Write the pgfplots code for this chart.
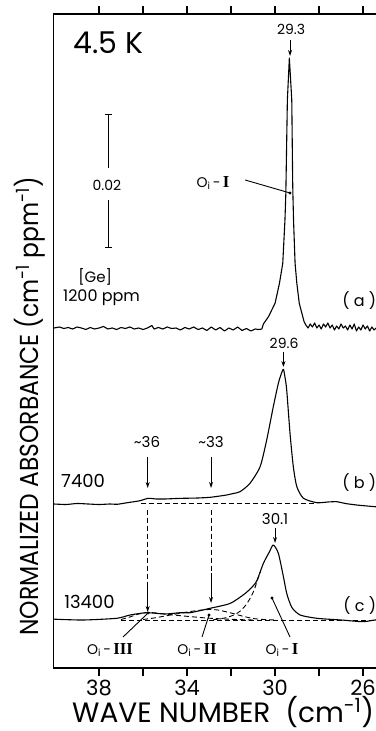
\documentclass[border=0pt]{standalone}
\usepackage{fontspec}
\setmainfont{Poppins}
\newfontfamily\romfont{Liberation Serif}
\usepackage{pgfplots}
\pgfplotsset{compat=1.18}
\usetikzlibrary{arrows.meta}
\newcommand{\fs}[1]{\fontsize{#1}{#1}\selectfont}
\newcommand{\Oi}[1]{O\textsubscript{i}\,-\,{\romfont\bfseries\scalebox{1.2}{#1}}}
\begin{document}
\begin{tikzpicture}
\begin{axis}[
  scale only axis, width=331.76pt, height=654pt,
  x dir=reverse, xmin=25, xmax=40.08, ymin=0, ymax=654,
  xtick={26,30,34,38}, minor xtick={28,32,36},
  ytick=\empty,
  tick align=outside, major tick length=8pt, minor tick length=8pt,
  xtick pos=both, xticklabel pos=lower,
  axis line style={line width=1.3pt},
  every tick/.style={black, line width=1.2pt},
  tick label style={font=\fs{21}},
  /pgf/number format/assume math mode=true,
  clip=false,
  xlabel={WAVE NUMBER\ \ (cm\textsuperscript{-1})},
  xlabel style={font=\fs{28}, at={(rel axis cs:0.0564,-0.0826)}, anchor=base west, inner sep=0pt},
  ylabel={\scalebox{0.9}[1]{NORMALIZED ABSORBANCE (cm\textsuperscript{-1} ppm\textsuperscript{-1})}},
  ylabel style={font=\fs{26}, at={(rel axis cs:-0.0702,0.40)}, anchor=center, rotate=0, inner sep=0pt},
]
\coordinate (BL) at (rel axis cs:0,0);
% (a) 1200 ppm
\addplot[black, line width=1.1pt, line join=round] coordinates {
(40.05,340) (39.8,341) (39.6,339.5) (39.4,340.5) (39.2,339) (39.0,341) (38.8,340) (38.6,338.5)
(38.4,340.5) (38.2,339) (38.0,340) (37.8,341.5) (37.6,339) (37.4,340) (37.2,338.5) (37.0,340.5)
(36.8,339.5) (36.6,341) (36.4,339) (36.2,340) (36.0,338.5) (35.8,340) (35.6,342.5) (35.5,339)
(35.3,340.5) (35.1,339) (34.9,341) (34.7,339.5) (34.5,340) (34.3,338) (34.1,340.5) (33.9,339)
(33.7,341) (33.5,338.5) (33.3,340) (33.1,337.5) (32.9,341) (32.7,338) (32.5,340.5) (32.3,337)
(32.1,340) (31.9,338) (31.7,341) (31.5,337.5) (31.3,339.5) (31.1,337) (30.9,339) (30.75,338.5)
(30.6,339) (30.53,344) (30.30,351.3) (30.0,364.7) (29.80,384.7) (29.65,404.7) (29.55,448)
(29.51,474.7) (29.50,488) (29.44,568) (29.35,610) (29.24,568) (29.20,488) (29.19,475)
(29.16,448) (29.09,404.7) (29.01,384.7) (28.90,364.7) (28.74,351.3) (28.68,346.3)
(28.6,343) (28.5,340) (28.4,344) (28.3,341) (28.2,345) (28.1,340) (28.0,343) (27.9,339)
(27.8,344) (27.7,341) (27.6,345) (27.5,340) (27.4,343) (27.3,338) (27.2,342) (27.1,339)
(27.0,344) (26.9,340) (26.8,342) (26.7,338) (26.6,343) (26.5,339) (26.4,344) (26.3,337)
(26.2,341) (26.1,338) (26.0,343) (25.9,339) (25.8,342) (25.7,337) (25.6,341) (25.5,338)
(25.4,340) (25.2,339) (25.0,341)
};
% (b) 7400 ppm
\addplot[black, line width=1.1pt, line join=round, smooth, tension=0.4] coordinates {
(40.05,164) (39.5,163.5) (39.0,164.5) (38.5,164) (38.0,163.5) (37.5,164) (37.18,163.7)
(36.8,165) (36.5,166) (36.14,167.3) (35.76,169.7) (35.4,169) (35.0,169) (34.5,169.5)
(34.18,169.7) (33.5,170) (32.95,170.7) (32.5,172) (32.2,173) (31.9,174.5) (31.59,176.3)
(31.14,184.7) (30.68,201.3) (30.38,228) (30.08,261.3) (29.85,284.7) (29.72,294) (29.62,298.7)
(29.55,291) (29.47,278) (29.32,234.7) (29.17,201.3) (29.01,181.3) (28.71,169.7) (28.10,165.3)
(27.6,166) (27.2,166.3) (26.8,164.5) (26.29,163) (25.45,161.3) (25.0,161)
};
\addplot[black, line width=0.9pt, dash pattern=on 5pt off 3pt] coordinates {(36.1,164.7) (28.1,164.7)};
% (c) 13400 ppm
\addplot[black, line width=1.1pt, line join=round, smooth, tension=0.4] coordinates {
(40.05,49) (39.92,48.7) (38.71,48) (37.2,49.7) (36.59,53) (35.83,55.3) (35.0,54) (34.32,55.3)
(33.86,55.3) (32.95,59.7) (32.05,64.5) (31.45,73) (31.18,78) (30.85,86.3) (30.53,104.7)
(30.26,116) (30.08,123) (29.85,114.7) (29.62,91.3) (29.47,74.7) (29.24,60.7) (28.86,53)
(28.10,49.7) (27.0,48) (26.0,46.3) (25.45,48) (25.0,47)
};
\addplot[black, line width=0.9pt, dash pattern=on 5pt off 3pt] coordinates {(37.0,48) (25.0,48)};
% components
\addplot[black, line width=0.9pt, dash pattern=on 5pt off 3pt, smooth] coordinates {
(37.0,48.5) (36.6,51) (36.2,54) (35.8,55.5) (35.4,55) (35.0,54) (34.4,52.5) (33.8,51.3)
(33.0,49.8) (32.0,48.7) (31.0,48)
};
\addplot[black, line width=0.9pt, dash pattern=on 5pt off 3pt, smooth] coordinates {
(36.0,48.5) (35.5,50) (35.0,52) (34.5,54) (34.0,56) (33.5,57.5) (33.0,58.5) (32.6,58)
(32.0,55) (31.5,52) (31.0,49.5) (30.5,48.5) (30.0,48)
};
\addplot[black, line width=0.9pt, dash pattern=on 5pt off 3pt, smooth] coordinates {
(32.8,48.3) (32.4,49.5) (32.05,51.5) (31.7,55) (31.4,61) (31.15,69) (30.95,78) (30.8,88) (30.65,97)
};
% vertical guides
\addplot[black, line width=0.9pt, dash pattern=on 5pt off 3pt] coordinates {(35.79,158) (35.79,85)};
\addplot[black, line width=0.9pt, dash pattern=on 5pt off 3pt] coordinates {(32.91,158) (32.91,95)};
\draw[line width=0.9pt, -{Stealth[length=6pt,width=4pt]}] (axis cs:35.79,85) -- (axis cs:35.79,56);
\draw[line width=0.9pt, -{Stealth[length=6pt,width=4pt]}] (axis cs:32.91,95) -- (axis cs:32.91,65);
% arrows for peaks
\draw[line width=0.9pt, -{Stealth[length=6pt,width=4pt]}] (axis cs:29.32,628) -- (axis cs:29.32,612);
\draw[line width=0.9pt, -{Stealth[length=6pt,width=4pt]}] (axis cs:29.62,316) -- (axis cs:29.62,301);
\draw[line width=0.9pt, -{Stealth[length=6pt,width=4pt]}] (axis cs:35.79,211) -- (axis cs:35.79,180);
\draw[line width=0.9pt, -{Stealth[length=6pt,width=4pt]}] (axis cs:32.91,211) -- (axis cs:32.91,180);
\draw[line width=0.9pt, -{Stealth[length=6pt,width=4pt]}] (axis cs:30.0,140) -- (axis cs:30.0,125);
% scale bar
\draw[line width=1pt] (axis cs:37.58,553) -- (axis cs:37.58,500);
\draw[line width=1pt] (axis cs:37.58,468) -- (axis cs:37.58,420);
\draw[line width=1pt] (axis cs:37.74,553) -- (axis cs:37.42,553);
\draw[line width=1pt] (axis cs:37.74,420) -- (axis cs:37.42,420);
\node[font=\fs{14}] at (axis cs:37.64,483) {0.02};
% pointer lines and dots
\draw[line width=0.9pt] (axis cs:31.36,488) -- (axis cs:29.32,475);
\fill (axis cs:29.32,475) circle (1.6pt);
\draw[line width=0.9pt] (axis cs:36.91,31) -- (axis cs:35.77,55);
\fill (axis cs:35.77,55) circle (1.6pt);
\draw[line width=0.9pt] (axis cs:33.32,31) -- (axis cs:33.0,53);
\fill (axis cs:33.0,53) circle (1.6pt);
\draw[line width=0.9pt] (axis cs:29.32,31) -- (axis cs:30.14,70);
\fill (axis cs:30.14,70) circle (1.6pt);
% texts
\node[font=\fs{30}] at (axis cs:37.57,625.5) {4.5 K};
\node[font=\fs{14}] at (axis cs:29.27,639) {29.3};
\node[font=\fs{14}] at (axis cs:32.82,485) {\Oi{I}};
\node[font=\fs{15}] at (axis cs:38.18,391) {[Ge]};
\node[font=\fs{16}, anchor=west, inner sep=0pt] at (axis cs:39.64,370) {1200 ppm};
\node[font=\fs{16}, anchor=west, inner sep=0pt] at (axis cs:26.95,367) {( a )};
\node[font=\fs{14}] at (axis cs:29.59,325) {29.6};
\node[font=\fs{15}] at (axis cs:35.82,226) {\textasciitilde36};
\node[font=\fs{15}] at (axis cs:32.91,226) {\textasciitilde33};
\node[font=\fs{18}, anchor=west, inner sep=0pt] at (axis cs:39.73,187) {7400};
\node[font=\fs{16}, anchor=west, inner sep=0pt] at (axis cs:26.95,185) {( b )};
\node[font=\fs{15}] at (axis cs:30.0,149) {30.1};
\node[font=\fs{18}, anchor=west, inner sep=0pt] at (axis cs:39.59,66.5) {13400};
\node[font=\fs{16}, anchor=west, inner sep=0pt] at (axis cs:26.9,62) {( c )};
\node[font=\fs{14}] at (axis cs:37.5,18) {\Oi{III}};
\node[font=\fs{14}] at (axis cs:33.55,18) {\Oi{II}};
\node[font=\fs{14}] at (axis cs:29.68,18) {\Oi{I}};
\end{axis}
\pgfresetboundingbox
\path[use as bounding box] ([shift={(-53.3pt,-63pt)}]BL) rectangle ++(375pt,731pt);
\end{tikzpicture}
\end{document}
